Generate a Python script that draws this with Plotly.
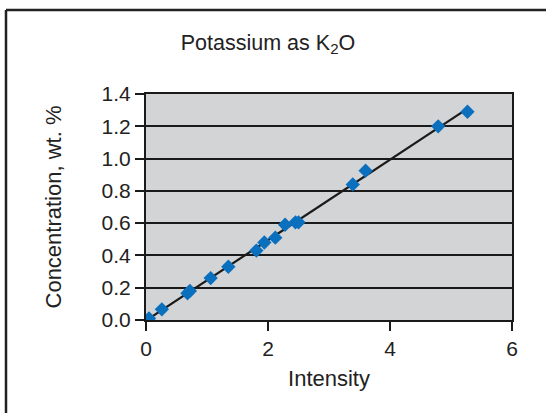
import numpy as np
import plotly.graph_objects as go

# Calibration data: potassium (as K2O) concentration vs. measured intensity
intensity = [0.05, 0.26, 0.68, 0.72, 1.06, 1.35, 1.81, 1.94, 2.12, 2.28, 2.45, 2.50, 3.39, 3.60, 4.79, 5.27]
concentration = [0.01, 0.066, 0.165, 0.18, 0.26, 0.33, 0.43, 0.48, 0.51, 0.59, 0.605, 0.605, 0.84, 0.925, 1.20, 1.29]

x_ticks = [0, 2, 4, 6]
y_ticks = [0.0, 0.2, 0.4, 0.6, 0.8, 1.0, 1.2, 1.4]
y_tick_text = [f"{v:.1f}" for v in y_ticks]

# Least-squares calibration line through the data
slope, intercept = np.polyfit(intensity, concentration, 1)
fit_x = np.array([0.0, max(intensity)])
fit_y = slope * fit_x + intercept

W, H = 546, 413
ML, MR, MT, MB = 146, 34, 94, 93
pw, ph = W - ML - MR, H - MT - MB

fig = go.Figure()
fig.add_trace(go.Scatter(
    x=fit_x, y=fit_y, mode="lines",
    line=dict(color="#1a1a1a", width=2.2),
    hoverinfo="skip", showlegend=False,
))
fig.add_trace(go.Scatter(
    x=intensity, y=concentration, mode="markers",
    marker=dict(symbol="diamond", size=11, color="#0a6fbd"),
    showlegend=False,
))

# Outer chart frame: only its left and top edges fall inside the page
fx0 = (6 - ML) / pw
fy1 = ((H - MB) - 10) / ph
frame = dict(color="#222222", width=2.5)
fig.add_shape(type="line", xref="paper", yref="paper",
              x0=fx0, x1=fx0, y0=fy1, y1=-2, line=frame, layer="above")
fig.add_shape(type="line", xref="paper", yref="paper",
              x0=fx0, x1=2, y0=fy1, y1=fy1, line=frame, layer="above")

font_family = "Liberation Sans, Arial, sans-serif"
fig.update_layout(
    width=W, height=H,
    margin=dict(l=ML, r=MR, t=MT, b=MB),
    paper_bgcolor="white",
    plot_bgcolor="#d3d4d6",
    font=dict(family=font_family, size=21, color="#222222"),
    title=dict(
        text="Potassium as K<sub>2</sub>O",
        x=268 / W, xanchor="center",
        y=1 - 42 / H, yanchor="middle",
        font=dict(size=21.5, color="#222222"),
    ),
    showlegend=False,
)
fig.update_xaxes(
    range=[0, 6], tickvals=x_ticks,
    showgrid=False, zeroline=False,
    showline=True, linecolor="#1a1a1a", linewidth=2, mirror=True,
    ticks="outside", ticklen=9, tickwidth=2, tickcolor="#1a1a1a",
    tickfont=dict(size=21),
    title=dict(text="Intensity", font=dict(size=22), standoff=11),
)
fig.update_yaxes(
    range=[0, 1.4], tickvals=y_ticks, ticktext=y_tick_text,
    showgrid=True, gridcolor="#1a1a1a", gridwidth=2,
    zeroline=False,
    showline=True, linecolor="#1a1a1a", linewidth=2, mirror=True,
    ticks="outside", ticklen=9, tickwidth=2, tickcolor="#1a1a1a",
    tickfont=dict(size=21),
    title=dict(text="Concentration, wt. %", font=dict(size=22), standoff=34),
)

fig.write_html("out.html")
